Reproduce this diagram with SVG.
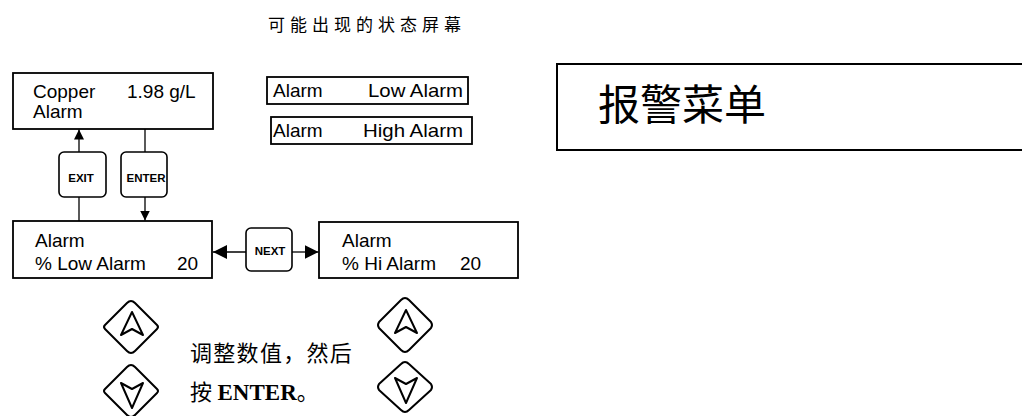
<svg xmlns="http://www.w3.org/2000/svg" width="1022" height="416" viewBox="0 0 1022 416">
<defs>
<style>
.box{fill:#fff;stroke:#000;stroke-width:1.8}
.btn{fill:#fff;stroke:#000;stroke-width:1.6}
.lcd{font-family:"Liberation Sans",Arial,sans-serif;font-size:19px;fill:#000}
.key{font-family:"Liberation Sans",Arial,sans-serif;font-weight:bold;font-size:11.5px;fill:#000;text-anchor:middle}
.cn{font-family:"Liberation Serif","Noto Sans CJK SC",serif;fill:#000}
.conn{stroke:#000;stroke-width:1.3;fill:none}
.arr{fill:none;stroke:#000;stroke-width:2;stroke-linejoin:round}
</style>
<marker id="ah" viewBox="0 0 10 10" refX="10" refY="5" markerWidth="10" markerHeight="10" markerUnits="userSpaceOnUse" orient="auto">
<path d="M0,0 L10,5 L0,10 Z" fill="#000"/>
</marker>
<marker id="ahw" viewBox="0 0 10 10" refX="10" refY="5" markerWidth="14" markerHeight="14" markerUnits="userSpaceOnUse" orient="auto">
<path d="M0,0 L10,5 L0,10 Z" fill="#000"/>
</marker>
</defs>
<rect width="1022" height="416" fill="#fff"/>

<g id="title">
<text class="cn" x="268" y="31" font-size="17" letter-spacing="5">可能出现的状态屏幕</text>
</g>

<g id="menu-title">
<path d="M1022,64 H557 V150 H1022" fill="none" stroke="#000" stroke-width="2"/>
<text class="cn" x="598" y="120" font-size="42" font-family="'Noto Sans CJK SC',sans-serif">报警菜单</text>
</g>

<g id="copper-screen">
<rect class="box" x="13" y="73" width="200" height="56"/>
<text class="lcd" x="33" y="98">Copper</text>
<text class="lcd" x="127" y="98">1.98 g/L</text>
<text class="lcd" x="33" y="118">Alarm</text>
</g>

<g id="status-low">
<rect class="box" x="267" y="77" width="201" height="27" stroke-width="1.4"/>
<text class="lcd" x="273" y="97">Alarm</text>
<text class="lcd" x="368" y="97" textLength="95" lengthAdjust="spacingAndGlyphs">Low Alarm</text>
</g>

<g id="status-high">
<rect class="box" x="271" y="117" width="201" height="27" stroke-width="1.4"/>
<text class="lcd" x="273" y="137">Alarm</text>
<text class="lcd" x="363" y="137" textLength="100" lengthAdjust="spacingAndGlyphs">High Alarm</text>
</g>

<g id="exit-key">
<rect class="btn" x="59" y="152" width="47" height="45" rx="5"/>
<text class="key" x="81" y="182">EXIT</text>
</g>

<g id="enter-key">
<rect class="btn" x="121" y="152" width="46" height="45" rx="5"/>
<text class="key" x="146" y="182" textLength="39" lengthAdjust="spacingAndGlyphs">ENTER</text>
</g>

<g id="low-alarm-screen">
<rect class="box" x="13" y="221" width="199" height="57"/>
<text class="lcd" x="35" y="247">Alarm</text>
<text class="lcd" x="35" y="270">% Low Alarm</text>
<text class="lcd" x="177" y="270">20</text>
</g>

<g id="next-key">
<rect class="btn" x="246" y="228" width="46" height="43" rx="5"/>
<text class="key" x="270" y="255" font-size="11">NEXT</text>
</g>

<g id="hi-alarm-screen">
<rect class="box" x="319" y="222" width="199" height="56"/>
<text class="lcd" x="342" y="247">Alarm</text>
<text class="lcd" x="342" y="270">% Hi Alarm</text>
<text class="lcd" x="460" y="270">20</text>
</g>

<g id="connectors">
<line class="conn" x1="79" y1="152" x2="79" y2="129.5" marker-end="url(#ah)"/>
<line class="conn" x1="79" y1="197" x2="79" y2="221"/>
<line class="conn" x1="145" y1="129" x2="145" y2="152"/>
<line class="conn" x1="145" y1="197" x2="145" y2="220.5" marker-end="url(#ah)"/>
<line class="conn" x1="246" y1="252" x2="213" y2="252" marker-end="url(#ahw)"/>
<line class="conn" x1="292" y1="252" x2="318.5" y2="252" marker-end="url(#ahw)"/>
</g>

<g id="left-up-key">
<path class="arr" d="M131,301 Q133,301 135,303 L157,325 Q159,327 157,329 L135,351 Q133,353 131,353 Q129,353 127,351 L105,329 Q103,327 105,325 L127,303 Q129,301 131,301 Z"/>
<path class="arr" d="M132,312 L143,335 L132,329 L121,335 Z"/>
</g>

<g id="left-down-key">
<path class="arr" d="M131,365 Q133,365 135,367 L157,389 Q159,391 157,393 L135,415 Q133,417 131,417 Q129,417 127,415 L105,393 Q103,391 105,389 L127,367 Q129,365 131,365 Z"/>
<path class="arr" d="M121,383 L132,389 L143,383 L132,408 Z"/>
</g>

<g id="right-up-key">
<path class="arr" d="M405,298 Q407,298 409,300 L431,322 Q433,325 431,328 L409,350 Q407,352 405,352 Q403,352 401,350 L379,328 Q377,325 379,322 L401,300 Q403,298 405,298 Z"/>
<path class="arr" d="M406,310 L417,333 L406,327 L395,333 Z"/>
</g>

<g id="right-down-key">
<path class="arr" d="M405,362 Q407,362 409,364 L431,384 Q433,387 431,390 L409,410 Q407,412 405,412 Q403,412 401,410 L379,390 Q377,387 379,384 L401,364 Q403,362 405,362 Z"/>
<path class="arr" d="M395,378 L406,384 L417,378 L406,403 Z"/>
</g>

<g id="instruction">
<text class="cn" x="190" y="361" font-size="22" letter-spacing="1.3">调整数值，然后</text>
<text class="cn" x="190" y="400" font-size="22">按 <tspan font-weight="bold" font-size="23">ENTER</tspan>。</text>
</g>
</svg>
